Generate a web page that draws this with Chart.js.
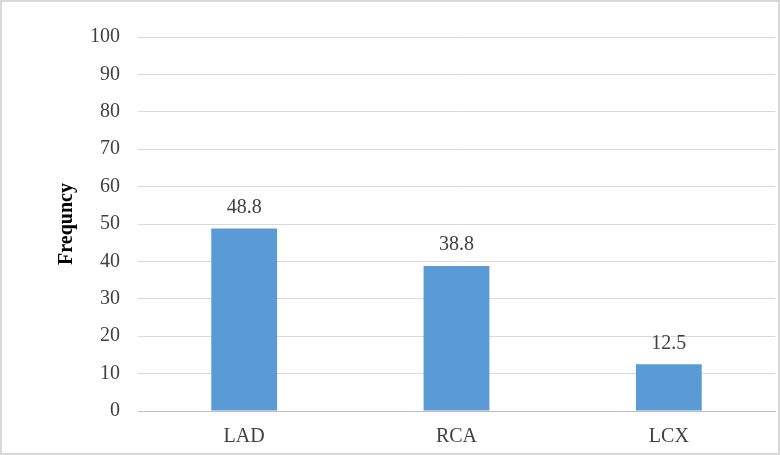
<!DOCTYPE html>
<html lang="en">
<head>
    <meta charset="UTF-8">
    <title>Frequency by vessel</title>
    <script src="https://cdn.jsdelivr.net/npm/chart.js"></script>
    <style>
        body { margin: 0; background: #fff; }
        #wrap { width: 780px; height: 455px; box-sizing: border-box; border: 2px solid #d9d9d9; }
    </style>
</head>
<body>
    <div id="wrap"><canvas id="vesselChart" width="776" height="451"></canvas></div>
    <script>
        // Data
        const vessels = ['LAD', 'RCA', 'LCX'];
        const frequency = [48.8, 38.8, 12.5];

        const serif = "'Liberation Serif', 'Times New Roman', serif";

        // values above the bars
        const valueLabels = {
            id: 'valueLabels',
            afterDatasetsDraw(chart) {
                const ctx = chart.ctx;
                const meta = chart.getDatasetMeta(0);
                ctx.save();
                ctx.font = '20px ' + serif;
                ctx.fillStyle = '#404040';
                ctx.textAlign = 'center';
                ctx.textBaseline = 'middle';
                meta.data.forEach(function(bar, i) {
                    ctx.fillText(frequency[i].toFixed(1), bar.x, bar.y - 21);
                });
                ctx.restore();
            }
        };

        const config = {
            type: 'bar',
            data: {
                labels: vessels,
                datasets: [{
                    data: frequency,
                    backgroundColor: '#5b9bd5',
                    barPercentage: 0.31,
                    categoryPercentage: 1
                }]
            },
            options: {
                responsive: false,
                animation: false,
                layout: { padding: { left: 49, top: 35, right: 3, bottom: 0 } },
                plugins: {
                    legend: { display: false },
                    tooltip: { enabled: false }
                },
                scales: {
                    x: {
                        grid: { display: false, drawTicks: false },
                        border: { color: '#bfbfbf' },
                        ticks: { color: '#404040', font: { family: serif, size: 20 }, padding: 14 },
                        afterFit(scale) { scale.height = 42; }
                    },
                    y: {
                        min: 0,
                        max: 100,
                        ticks: { stepSize: 10, color: '#404040', font: { family: serif, size: 20 }, padding: 18 },
                        grid: { color: '#d9d9d9', drawTicks: false },
                        border: { display: false },
                        title: {
                            display: true,
                            text: 'Frequncy',
                            color: '#000',
                            font: { family: serif, size: 20, weight: 'bold' },
                            padding: { top: 4, bottom: 4 }
                        },
                        afterFit(scale) { scale.width = 87; }
                    }
                }
            },
            plugins: [valueLabels]
        };

        const myChart = new Chart(document.getElementById('vesselChart'), config);
    </script>
</body>
</html>
